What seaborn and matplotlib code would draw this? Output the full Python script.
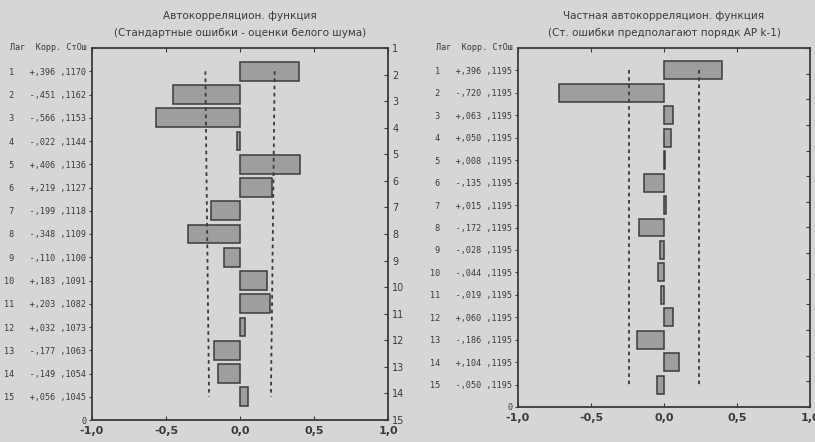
import numpy as np
import pandas as pd
import seaborn as sns
import matplotlib.pyplot as plt

# lags and values
lags = list(range(1, 16))
acf = [0.396, -0.451, -0.566, -0.022, 0.406, 0.219, -0.199, -0.348, -0.110,
       0.183, 0.203, 0.032, -0.177, -0.149, 0.056]
acf_se = [0.1170, 0.1162, 0.1153, 0.1144, 0.1136, 0.1127, 0.1118, 0.1109,
          0.1100, 0.1091, 0.1082, 0.1073, 0.1063, 0.1054, 0.1045]
pacf = [0.396, -0.720, 0.063, 0.050, 0.008, -0.135, 0.015, -0.172, -0.028,
        -0.044, -0.019, 0.060, -0.186, 0.104, -0.050]
pacf_se = [0.1195] * 15
x_ticks = [-1.0, -0.5, 0.0, 0.5, 1.0]

bg = '#d6d6d6'
ink = '#3a3a3a'
sns.set_style("white")
plt.rcParams['font.family'] = ['DejaVu Sans']


def fmt(v):
    s = f"{abs(v):.3f}"[1:].replace('.', ',')
    return ('+' if v >= 0 else '-') + s


def panel(ax, vals, ses, title1, title2, right_labels):
    df = pd.DataFrame({'lag': lags, 'r': vals, 'pos': [16 - l for l in lags]})
    sns.barplot(data=df, x='r', y='pos', orient='h', native_scale=True,
                width=0.8, color='#9c9c9c', edgecolor='#3c3c3c', linewidth=1.1,
                ax=ax)
    for p in ax.patches:
        p.set_facecolor('#9e9e9e')
    lim = 2 * np.array(ses)
    ypos = df['pos'].values
    ax.plot(-lim, ypos, ls=(0, (2, 2)), color=ink, lw=1.3)
    ax.plot(lim, ypos, ls=(0, (2, 2)), color=ink, lw=1.3)
    ax.set_xlim(-1, 1)
    ax.set_ylim(0, 16)
    ax.set_facecolor(bg)
    ax.set_xticks(x_ticks)
    ax.set_xticklabels([f"{t:.1f}".replace('.', ',') for t in x_ticks],
                       fontsize=8, color=ink, family='Liberation Sans Narrow',
                       fontweight='bold')
    ax.tick_params(axis='x', direction='in', length=3, color=ink, top=True,
                   bottom=True, pad=4)
    ticks = [0] + list(ypos)
    labels = ['0'] + [f"{l:>2}   {fmt(v)} ,{int(round(s * 10000)):04d}"
                      for l, v, s in zip(lags, vals, ses)]
    ax.set_yticks(ticks)
    ax.set_yticklabels(labels, fontsize=6.1, family='DejaVu Sans Mono',
                       color=ink)
    ax.tick_params(axis='y', direction='out', length=2, color=ink, pad=2)
    ax.set_ylabel('')
    ax.set_xlabel('')
    for s in ax.spines.values():
        s.set_color(ink)
        s.set_linewidth(1.3)
    ax.annotate("Лаг  Корр. СтОш", xy=(0, 1), xycoords='axes fraction',
                xytext=(-4, 0), textcoords='offset points', ha='right',
                va='center', fontsize=6.1, family='DejaVu Sans Mono', color=ink)
    # two title lines, placed above the frame like the original
    ax.annotate(title1, xy=(0.5, 1), xycoords='axes fraction', xytext=(0, 23),
                textcoords='offset points', ha='center', va='center',
                fontsize=7.5, color=ink, family='Liberation Sans Narrow')
    ax.annotate(title2, xy=(0.5, 1), xycoords='axes fraction', xytext=(0, 11),
                textcoords='offset points', ha='center', va='center',
                fontsize=7.5, color=ink, family='Liberation Sans Narrow')
    ax2 = ax.twinx()
    ax2.set_ylim(15, 1)
    ax2.set_yticks(range(1, 16))
    ax2.set_yticklabels([str(i) for i in range(1, 16)] if right_labels else [],
                        fontsize=7, color=ink, family='Liberation Sans Narrow')
    ax2.tick_params(axis='y', direction='in', length=3, color=ink, pad=3)
    for s in ax2.spines.values():
        s.set_visible(False)
    return ax


fig = plt.figure(figsize=(8.15, 4.42), dpi=100, facecolor=bg)
ax_l = fig.add_axes([92 / 815, 22 / 442, 296 / 815, 372 / 442])
ax_r = fig.add_axes([518 / 815, 35 / 442, 292 / 815, 359 / 442])

panel(ax_l, acf, acf_se, "Автокорреляцион. функция",
      "(Стандартные ошибки - оценки белого шума)", True)
panel(ax_r, pacf, pacf_se, "Частная автокорреляцион. функция",
      "(Ст. ошибки предполагают порядк АР k-1)", False)

fig.savefig('out.png', dpi=100, facecolor=bg)
